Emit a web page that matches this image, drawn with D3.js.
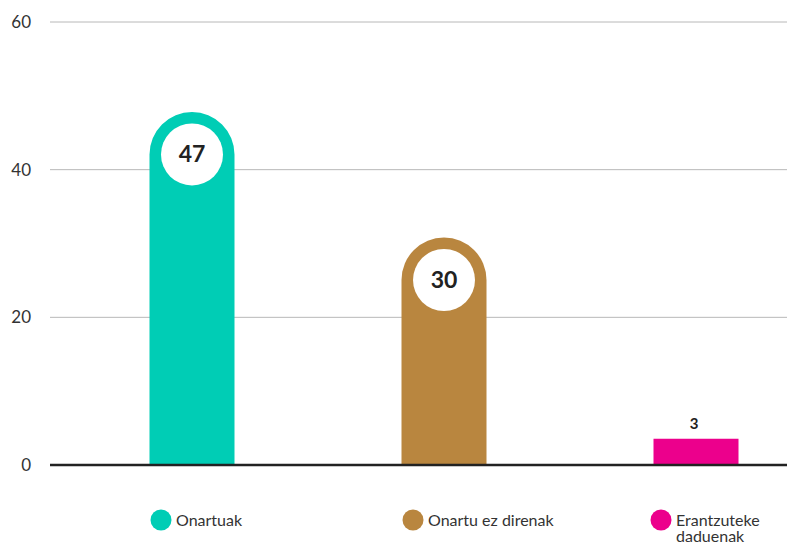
<!DOCTYPE html>
<html>
<head>
<meta charset="utf-8">
<script src="https://cdn.jsdelivr.net/npm/d3@7"></script>
<style>
  body { margin: 0; background: #fff; }
  svg { font-family: Lato, "Open Sans", sans-serif; }
</style>
</head>
<body>
<svg id="chart" width="787" height="543"></svg>
<script>
const categories = ['Onartuak', 'Onartu ez direnak', 'Erantzuteke daduenak'];
const values = [47, 30, 3];
const colors = ['#00cdb5', '#b9863f', '#ec008c'];
const yTicks = [0, 20, 40, 60];
const legendLines = [['Onartuak'], ['Onartu ez direnak'], ['Erantzuteke', 'daduenak']];

(function () {
const svg = d3.select('#chart');
const left = 50, right = 787, base = 465, yTop = 22;

let y = d3.scaleLinear().domain([0, 60]).range([base, yTop]);
let x = d3.scalePoint().domain(categories).range([192, 696]);
const bw = 85, r = bw / 2;

// grid + y labels
svg.append('g').selectAll('line').data(yTicks.filter(d => d > 0)).enter()
  .append('line')
  .attr('x1', left).attr('x2', right)
  .attr('y1', d => y(d)).attr('y2', d => y(d))
  .attr('stroke', '#b8b8b8').attr('stroke-width', 1);

svg.append('g').selectAll('text').data(yTicks).enter()
  .append('text')
  .attr('x', 31).attr('y', d => y(d) + 6)
  .attr('text-anchor', 'end')
  .attr('font-size', 17).attr('fill', '#333')
  .text(d => d);

// bars
const data = categories.map((c, i) => ({ c, v: values[i], col: colors[i] }));
const capTop = d => y(d.v) - 6;
const isTall = d => base - capTop(d) >= r * 1.5;

function barPath(d) {
  let x0 = x(d.c) - r, x1 = x(d.c) + r;
  let t = capTop(d);
  if (!isTall(d)) {
    return `M${x0},${base}V${t + 2}H${x1}V${base}Z`;
  }
  let cy = t + r;
  return `M${x0},${base}V${cy}A${r},${r} 0 0 1 ${x1},${cy}V${base}Z`;
}

svg.append('g').selectAll('path').data(data).enter()
  .append('path')
  .attr('d', barPath)
  .attr('fill', d => d.col);

const big = data.filter(isTall);
const small = data.filter(d => !isTall(d));

svg.append('g').selectAll('circle').data(big).enter()
  .append('circle')
  .attr('cx', d => x(d.c)).attr('cy', d => capTop(d) + r)
  .attr('r', 31).attr('fill', '#fff');

svg.append('g').selectAll('text').data(big).enter()
  .append('text')
  .attr('x', d => x(d.c)).attr('y', d => capTop(d) + r + 8)
  .attr('text-anchor', 'middle')
  .attr('font-size', 23).attr('font-weight', 'bold').attr('fill', '#222')
  .text(d => d.v);

svg.append('g').selectAll('text').data(small).enter()
  .append('text')
  .attr('x', d => x(d.c) - 2).attr('y', d => capTop(d) - 8)
  .attr('text-anchor', 'middle')
  .attr('font-size', 15).attr('font-weight', 'bold').attr('fill', '#222')
  .text(d => d.v);

// baseline
svg.append('line')
  .attr('x1', left).attr('x2', right)
  .attr('y1', base).attr('y2', base)
  .attr('stroke', '#222').attr('stroke-width', 2.5);

// legend
const lx = [161, 413, 661];
const leg = svg.append('g').selectAll('g').data(data).enter()
  .append('g')
  .attr('transform', (d, i) => `translate(${lx[i]},520)`);

leg.append('circle').attr('r', 10.5).attr('fill', d => d.col);
leg.append('text')
  .attr('x', 15).attr('y', 6)
  .attr('font-size', 16).attr('fill', '#333')
  .selectAll('tspan').data((d, i) => legendLines[i]).enter()
  .append('tspan')
  .attr('x', 15).attr('dy', (d, i) => i ? 16 : 0)
  .text(d => d);
})();
</script>
</body>
</html>
